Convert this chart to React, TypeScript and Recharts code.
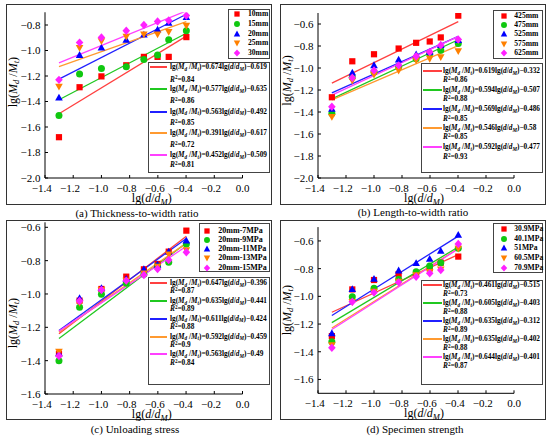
import React from "react";
import { ComposedChart, Scatter, Line, XAxis, YAxis, Legend, Label } from "recharts";

const FONT = "'Times New Roman', 'Liberation Serif', serif";
const W = 275;
const H = 215;
const XAXIS_H = 30;
const EQ_FONT = 7.3;

// lg(d/dM) for d/dM = 0.05, 0.07, 0.1, 0.15, 0.2, 0.25, 0.3, 0.4
const xValues = [-1.301, -1.155, -1.0, -0.824, -0.699, -0.602, -0.523, -0.398];
const xTicks = [-1.4, -1.2, -1.0, -0.8, -0.6, -0.4, -0.2, 0];

const markerColors = ["#ff0000", "#10c810", "#0000ff", "#ff8000", "#ff20ff"];
const lineColors = ["#ff4040", "#20c820", "#2020ff", "#ff9a30", "#ff40ff"];
const markerKinds = ["square", "circle", "up", "down", "diamond"];

// (a) thickness-to-width ratio
const thicknessNames = ["10mm", "15mm", "20mm", "25mm", "30mm"];
const thicknessY = [
  [-1.68, -1.288, -1.203, -1.116, -1.05, -1.05, -1.05, -0.895],
  [-1.51, -1.185, -1.142, -1.127, -1.07, -1.036, -0.915, -0.845],
  [-1.371, -1.036, -0.978, -0.917, -0.877, -0.837, -0.784, -0.739],
  [-1.283, -0.978, -0.925, -0.89, -0.872, -0.872, -0.853, -0.805],
  [-1.23, -0.938, -0.898, -0.845, -0.8, -0.773, -0.765, -0.726],
];
const thicknessFitStart = [-1.496, -1.386, -1.225, -1.126, -1.097];
const thicknessFitEnd = [-0.887, -0.865, -0.716, -0.773, -0.689];
const thicknessSlopes = ["0.674", "0.577", "0.563", "0.391", "0.452"];
const thicknessIntercepts = ["0.619", "0.635", "0.492", "0.617", "0.509"];
const thicknessR2 = ["0.84", "0.86", "0.85", "0.72", "0.81"];
const thicknessYTicks = [-2.0, -1.8, -1.6, -1.4, -1.2, -1.0, -0.8];

// (b) length-to-width ratio
const lengthNames = ["425mm", "475mm", "525mm", "575mm", "625mm"];
const lengthY = [
  [-1.266, -0.939, -0.875, -0.823, -0.771, -0.759, -0.722, -0.524],
  [-1.413, -1.083, -1.037, -0.99, -0.915, -0.869, -0.838, -0.777],
  [-1.373, -1.043, -0.976, -0.924, -0.878, -0.854, -0.793, -0.747],
  [-1.444, -1.114, -1.059, -1.022, -0.93, -0.915, -0.9, -0.845],
  [-1.352, -1.089, -1.022, -0.976, -0.893, -0.854, -0.793, -0.741],
];
const lengthFitStart = [-1.137, -1.28, -1.226, -1.29, -1.247];
const lengthFitEnd = [-0.578, -0.743, -0.713, -0.797, -0.713];
const lengthSlopes = ["0.619", "0.594", "0.569", "0.546", "0.592"];
const lengthIntercepts = ["0.332", "0.507", "0.486", "0.58", "0.477"];
const lengthR2 = ["0.86", "0.88", "0.85", "0.85", "0.93"];
const lengthYTicks = [-2.0, -1.8, -1.6, -1.4, -1.2, -1.0, -0.8, -0.6];

// (c) unloading stress
const stressNames = ["20mm-7MPa", "20mm-9MPa", "20mm-11MPa", "20mm-13MPa", "20mm-15MPa"];
const stressY = [
  [-1.36, -1.04, -0.97, -0.896, -0.852, -0.82, -0.746, -0.62],
  [-1.4, -1.08, -1.002, -0.936, -0.882, -0.832, -0.81, -0.7],
  [-1.356, -1.026, -0.966, -0.91, -0.852, -0.825, -0.746, -0.68],
  [-1.346, -1.052, -0.975, -0.92, -0.876, -0.836, -0.762, -0.736],
  [-1.372, -1.042, -0.976, -0.92, -0.886, -0.85, -0.796, -0.75],
];
const stressFitStart = [-1.238, -1.267, -1.219, -1.229, -1.223];
const stressFitEnd = [-0.654, -0.694, -0.667, -0.695, -0.714];
const stressSlopes = ["0.647", "0.635", "0.611", "0.592", "0.563"];
const stressIntercepts = ["0.396", "0.441", "0.424", "0.459", "0.49"];
const stressR2 = ["0.87", "0.89", "0.88", "0.9", "0.84"];
const stressYTicks = [-1.6, -1.4, -1.2, -1.0, -0.8, -0.6];

// (d) specimen strength
const strengthNames = ["30.9MPa", "40.1MPa", "51MPa", "60.5MPa", "70.9MPa"];
const strengthY = [
  [-1.287, -0.95, -0.882, -0.839, -0.834, -0.798, -0.757, -0.713],
  [-1.328, -1.002, -0.942, -0.877, -0.822, -0.781, -0.757, -0.653],
  [-1.267, -0.949, -0.875, -0.814, -0.761, -0.73, -0.672, -0.557],
  [-1.352, -1.04, -0.966, -0.894, -0.846, -0.822, -0.805, -0.655],
  [-1.371, -1.039, -0.973, -0.899, -0.858, -0.834, -0.81, -0.622],
];
const strengthFitStart = [-1.115, -1.19, -1.138, -1.228, -1.239];
const strengthFitEnd = [-0.699, -0.644, -0.565, -0.655, -0.657];
const strengthSlopes = ["0.461", "0.605", "0.635", "0.635", "0.644"];
const strengthIntercepts = ["0.515", "0.403", "0.312", "0.402", "0.401"];
const strengthR2 = ["0.73", "0.88", "0.89", "0.88", "0.87"];
const strengthYTicks = [-1.6, -1.4, -1.2, -1.0, -0.8, -0.6];

type Box = { x1: number; y1: number; x2: number; y2: number };
type PanelCfg = {
  left: number;
  top: number;
  plot: { left: number; right: number; top: number; bottom: number };
  yDomain: [number, number];
  yTicks: number[];
  names: string[];
  ys: number[][];
  fitStart: number[];
  fitEnd: number[];
  slopes: string[];
  intercepts: string[];
  r2: string[];
  frame: Box;
  caption: string;
  captionX: number;
  captionY: number;
  yTitleX: number;
  yTitleShift: number;
  sym: Box & { rows: number[]; symX: number; textX: number; font: number };
  eq: Box & { rows: number[]; r2Rows: number[]; lineX1: number; lineX2: number; textX: number };
};

const panels: PanelCfg[] = [
  {
    left: 0,
    top: 0,
    plot: { left: 45, right: 242.5, top: 12.25, bottom: 178 },
    yDomain: [-2.0, -0.7],
    yTicks: thicknessYTicks,
    names: thicknessNames,
    ys: thicknessY,
    fitStart: thicknessFitStart,
    fitEnd: thicknessFitEnd,
    slopes: thicknessSlopes,
    intercepts: thicknessIntercepts,
    r2: thicknessR2,
    frame: { x1: 6, y1: 4, x2: 272, y2: 205 },
    caption: "(a) Thickness-to-width ratio",
    captionX: 137,
    captionY: 213,
    yTitleX: 13,
    yTitleShift: -13,
    sym: { x1: 228.3, y1: 9.3, x2: 270.5, y2: 59.3, rows: [14.3, 24, 33.5, 43.2, 52.7], symX: 237.3, textX: 248, font: 7.6 },
    eq: {
      x1: 148.3, y1: 61.7, x2: 270.5, y2: 173,
      rows: [67.3, 89.3, 111.5, 133.3, 155.2],
      r2Rows: [79.5, 101, 123, 144.8, 164.7],
      lineX1: 150, lineX2: 167, textX: 170,
    },
  },
  {
    left: 275,
    top: 0,
    plot: { left: 43, right: 239, top: 13, bottom: 178 },
    yDomain: [-2.0, -0.5],
    yTicks: lengthYTicks,
    names: lengthNames,
    ys: lengthY,
    fitStart: lengthFitStart,
    fitEnd: lengthFitEnd,
    slopes: lengthSlopes,
    intercepts: lengthIntercepts,
    r2: lengthR2,
    frame: { x1: 279.5, y1: 4, x2: 546, y2: 205 },
    caption: "(b) Length-to-width ratio",
    captionX: 413,
    captionY: 211.5,
    yTitleX: 287,
    yTitleShift: -15,
    sym: { x1: 493.3, y1: 10, x2: 543.3, y2: 59.3, rows: [16, 24.7, 34.3, 43.7, 52.7], symX: 504.3, textX: 514.3, font: 7.6 },
    eq: {
      x1: 421, y1: 63.3, x2: 543.3, y2: 173.3,
      rows: [71, 90, 109.3, 128.3, 147.3],
      r2Rows: [80, 99.3, 119, 137.3, 156.7],
      lineX1: 422.7, lineX2: 441.7, textX: 443,
    },
  },
  {
    left: 0,
    top: 215,
    plot: { left: 45, right: 242.5, top: 7.3, bottom: 179 },
    yDomain: [-1.6, -0.57],
    yTicks: stressYTicks,
    names: stressNames,
    ys: stressY,
    fitStart: stressFitStart,
    fitEnd: stressFitEnd,
    slopes: stressSlopes,
    intercepts: stressIntercepts,
    r2: stressR2,
    frame: { x1: 6, y1: 220, x2: 272, y2: 420 },
    caption: "(c) Unloading stress",
    captionX: 135,
    captionY: 429.3,
    yTitleX: 13,
    yTitleShift: 15,
    sym: { x1: 199.3, y1: 222.7, x2: 270, y2: 271.7, rows: [231, 240, 249, 258.3, 267.7], symX: 206.7, textX: 218.3, font: 8 },
    eq: {
      x1: 147.7, y1: 276.7, x2: 270, y2: 385,
      rows: [283.3, 301, 318.7, 336.7, 354.3],
      r2Rows: [291.3, 309.3, 327.3, 345, 363.3],
      lineX1: 150, lineX2: 167, textX: 170,
    },
  },
  {
    left: 275,
    top: 215,
    plot: { left: 43, right: 239, top: 12.1, bottom: 178.3 },
    yDomain: [-1.7, -0.5],
    yTicks: strengthYTicks,
    names: strengthNames,
    ys: strengthY,
    fitStart: strengthFitStart,
    fitEnd: strengthFitEnd,
    slopes: strengthSlopes,
    intercepts: strengthIntercepts,
    r2: strengthR2,
    frame: { x1: 280, y1: 220, x2: 546, y2: 420 },
    caption: "(d) Specimen strength",
    captionX: 415,
    captionY: 429.3,
    yTitleX: 287,
    yTitleShift: 0,
    sym: { x1: 493.3, y1: 222.7, x2: 543, y2: 272.7, rows: [229.3, 239, 248.3, 258.3, 267.7], symX: 504.3, textX: 514.3, font: 7.6 },
    eq: {
      x1: 421, y1: 279.5, x2: 543, y2: 385,
      rows: [285, 303, 321, 339, 357],
      r2Rows: [293.7, 311.7, 329.7, 347.7, 365.7],
      lineX1: 422.7, lineX2: 441.7, textX: 443,
    },
  },
];

const fmt = (v: number) => (v < -1e-9 ? "\u2212" : "") + Math.abs(v).toFixed(1);

function Marker({ kind, cx, cy, color, s = 1 }: { kind: string; cx: number; cy: number; color: string; s?: number }) {
  if (cx == null || cy == null) return null;
  switch (kind) {
    case "square":
      return <rect x={cx - 3.1 * s} y={cy - 3.1 * s} width={6.2 * s} height={6.2 * s} fill={color} />;
    case "circle":
      return <circle cx={cx} cy={cy} r={3.5 * s} fill={color} />;
    case "up":
      return (
        <polygon
          points={`${cx},${cy - 4 * s} ${cx + 3.8 * s},${cy + 2.8 * s} ${cx - 3.8 * s},${cy + 2.8 * s}`}
          fill={color}
        />
      );
    case "down":
      return (
        <polygon
          points={`${cx},${cy + 4 * s} ${cx + 3.8 * s},${cy - 2.8 * s} ${cx - 3.8 * s},${cy - 2.8 * s}`}
          fill={color}
        />
      );
    default:
      return (
        <polygon
          points={`${cx},${cy - 4.2 * s} ${cx + 3.8 * s},${cy} ${cx},${cy + 4.2 * s} ${cx - 3.8 * s},${cy}`}
          fill={color}
        />
      );
  }
}

// eslint-disable-next-line @typescript-eslint/no-explicit-any
const XTick = (props: any) => {
  const { x, y, payload } = props;
  const v = payload.value as number;
  return (
    <g>
      <line x1={x} x2={x} y1={y} y2={y - 3} stroke="#000" strokeWidth={1} />
      <text x={x - (v < 0 ? 3.2 : 0)} y={y + 13.5} textAnchor="middle" fontSize={11} fontFamily={FONT} fill="#000">
        {fmt(v)}
      </text>
    </g>
  );
};

// eslint-disable-next-line @typescript-eslint/no-explicit-any
const YTick = (props: any) => {
  const { x, y, payload } = props;
  return (
    <g>
      <line x1={x} x2={x + 3} y1={y} y2={y} stroke="#000" strokeWidth={1} />
      <text x={x - 4.5} y={y} dy="0.36em" textAnchor="end" fontSize={11} fontFamily={FONT} fill="#000">
        {fmt(payload.value)}
      </text>
    </g>
  );
};

const Sb = ({ children }: { children: React.ReactNode }) => (
  <span style={{ fontSize: "70%", position: "relative", top: "0.3em" }}>{children}</span>
);
const Sp = ({ children }: { children: React.ReactNode }) => (
  <span style={{ fontSize: "70%", position: "relative", top: "-0.4em" }}>{children}</span>
);

function Boxes({ p }: { p: PanelCfg }) {
  const ox = p.left;
  const oy = p.top;
  const s = p.sym;
  const e = p.eq;
  const boxStyle: React.CSSProperties = {
    position: "absolute",
    border: "1px solid #444",
    boxSizing: "border-box",
    background: "#fff",
  };
  const rowStyle: React.CSSProperties = {
    position: "absolute",
    height: 10,
    lineHeight: "10px",
    fontWeight: "bold",
    whiteSpace: "nowrap",
  };
  return (
    <div style={{ position: "relative", width: W, height: H, fontFamily: FONT, color: "#000" }}>
      <div style={{ ...boxStyle, left: s.x1 - ox, top: s.y1 - oy, width: s.x2 - s.x1, height: s.y2 - s.y1 }} />
      {p.names.map((n, i) => (
        <React.Fragment key={n}>
          <svg
            width={10}
            height={10}
            style={{ position: "absolute", left: s.symX - ox - 5, top: s.rows[i] - oy - 5 }}
          >
            <Marker kind={markerKinds[i]} cx={5} cy={5} color={markerColors[i]} s={0.85} />
          </svg>
          <div style={{ ...rowStyle, left: s.textX - ox, top: s.rows[i] - oy - 5, fontSize: s.font }}>{n}</div>
        </React.Fragment>
      ))}
      <div style={{ ...boxStyle, left: e.x1 - ox, top: e.y1 - oy, width: e.x2 - e.x1, height: e.y2 - e.y1 }} />
      {p.slopes.map((a, i) => (
        <React.Fragment key={i}>
          <svg
            width={e.lineX2 - e.lineX1}
            height={4}
            style={{ position: "absolute", left: e.lineX1 - ox, top: e.rows[i] - oy - 2 }}
          >
            <line x1={0} x2={e.lineX2 - e.lineX1} y1={2} y2={2} stroke={lineColors[i]} strokeWidth={2} />
          </svg>
          <div style={{ ...rowStyle, left: e.textX - ox, top: e.rows[i] - oy - 5, fontSize: EQ_FONT }}>
            lg(<i>M</i>
            <Sb>
              <i>d</i>
            </Sb>
            {" /"}
            <i>M</i>
            <Sb>
              <i>t</i>
            </Sb>
            )={a}lg(<i>d</i>/<i>d</i>
            <Sb>
              <i>M</i>
            </Sb>
            ){"\u2212"}
            {p.intercepts[i]}
          </div>
          <div style={{ ...rowStyle, left: e.textX - ox, top: e.r2Rows[i] - oy - 5, fontSize: EQ_FONT }}>
            <i>R</i>
            <Sp>2</Sp>={p.r2[i]}
          </div>
        </React.Fragment>
      ))}
    </div>
  );
}

function Panel({ p }: { p: PanelCfg }) {
  const f = p.frame;
  const margin = {
    top: p.plot.top,
    right: W - p.plot.right,
    left: 0,
    bottom: H - p.plot.bottom - XAXIS_H,
  };
  const xMid = (p.plot.left + p.plot.right) / 2 + 8;
  const yMid = (p.plot.top + p.plot.bottom) / 2 + p.yTitleShift;
  const yTitleX = p.yTitleX - p.left;
  return (
    <>
      <div
        style={{
          position: "absolute",
          left: f.x1,
          top: f.y1,
          width: f.x2 - f.x1,
          height: f.y2 - f.y1,
          border: "1px solid #333",
          boxSizing: "border-box",
        }}
      />
      <div
        style={{
          position: "absolute",
          left: p.captionX - 110,
          width: 220,
          top: p.captionY - 7,
          lineHeight: "14px",
          textAlign: "center",
          fontSize: 11,
          color: "#000",
          fontFamily: FONT,
        }}
      >
        {p.caption}
      </div>
      <div style={{ position: "absolute", left: p.left, top: p.top }}>
        <ComposedChart width={W} height={H} margin={margin}>
          <XAxis
            type="number"
            dataKey="x"
            domain={[-1.4, 0]}
            ticks={xTicks}
            interval={0}
            allowDataOverflow
            tickLine={false}
            tickSize={0}
            tickMargin={0}
            tick={XTick}
            axisLine={{ stroke: "#000", strokeWidth: 1 }}
            height={XAXIS_H}
          >
            <Label
              content={() => (
                <text x={xMid} y={p.plot.bottom + 23.5} textAnchor="middle" fontSize={12} fontFamily={FONT} fill="#000">
                  lg(<tspan fontStyle="italic">d</tspan>/<tspan fontStyle="italic">d</tspan>
                  <tspan dy={3} fontSize={8.5} fontStyle="italic">
                    M
                  </tspan>
                  <tspan dy={-3}>)</tspan>
                </text>
              )}
            />
          </XAxis>
          <YAxis
            type="number"
            dataKey="y"
            domain={p.yDomain}
            ticks={p.yTicks}
            interval={0}
            allowDataOverflow
            tickLine={false}
            tickSize={0}
            tickMargin={0}
            tick={YTick}
            axisLine={{ stroke: "#000", strokeWidth: 1 }}
            width={p.plot.left}
          >
            <Label
              content={() => (
                <text
                  x={yTitleX}
                  y={yMid}
                  transform={`rotate(-90 ${yTitleX} ${yMid})`}
                  textAnchor="middle"
                  dominantBaseline="central"
                  fontSize={12}
                  fontFamily={FONT}
                  fill="#000"
                >
                  lg(<tspan fontStyle="italic">M</tspan>
                  <tspan dy={3} fontSize={8.5} fontStyle="italic">
                    d
                  </tspan>
                  <tspan dy={-3}> /</tspan>
                  <tspan fontStyle="italic">M</tspan>
                  <tspan dy={3} fontSize={8.5} fontStyle="italic">
                    t
                  </tspan>
                  <tspan dy={-3}>)</tspan>
                </text>
              )}
            />
          </YAxis>
          {p.fitStart.map((y0, i) => (
            <Line
              key={`fit-${i}`}
              data={[
                { x: xValues[0], y: y0 },
                { x: xValues[xValues.length - 1], y: p.fitEnd[i] },
              ]}
              dataKey="y"
              type="linear"
              stroke={lineColors[i]}
              strokeWidth={1.3}
              dot={false}
              activeDot={false}
              isAnimationActive={false}
              legendType="none"
            />
          ))}
          {p.ys.map((ys, i) => (
            <Scatter
              key={`pts-${i}`}
              name={p.names[i]}
              data={xValues.map((x, j) => ({ x, y: ys[j] }))}
              dataKey="y"
              isAnimationActive={false}
              // eslint-disable-next-line @typescript-eslint/no-explicit-any
              shape={(sp: any) => <Marker kind={markerKinds[i]} cx={sp.cx} cy={sp.cy} color={markerColors[i]} />}
            />
          ))}
          <Legend
            layout="horizontal"
            verticalAlign="middle"
            align="center"
            content={() => <Boxes p={p} />}
            wrapperStyle={{ left: 0, top: 0, width: W, height: H, pointerEvents: "none" }}
          />
        </ComposedChart>
      </div>
    </>
  );
}

export default function App() {
  return (
    <div
      style={{
        position: "absolute",
        left: 0,
        top: 0,
        width: 550,
        height: 441,
        background: "#fff",
        fontFamily: FONT,
      }}
    >
      {panels.map((p) => (
        <Panel key={p.caption} p={p} />
      ))}
    </div>
  );
}
